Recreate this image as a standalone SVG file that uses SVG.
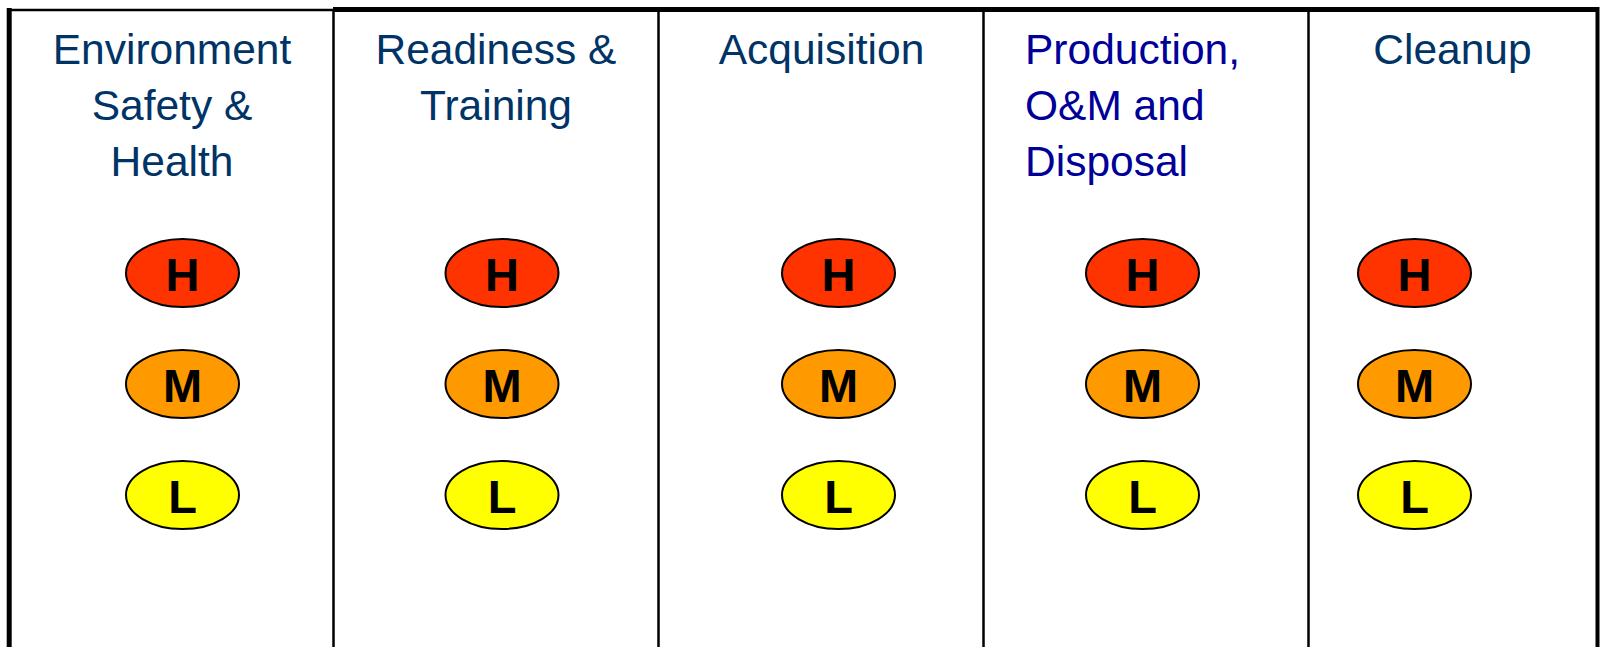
<svg xmlns="http://www.w3.org/2000/svg" width="1602" height="647" viewBox="0 0 1602 647">
<style>
.title{font-family:"Liberation Sans",Arial,sans-serif;font-size:42.5px;fill:#003366}
.t2{fill:#000099}
.lvl{font-family:"Liberation Sans",Arial,sans-serif;font-size:47px;font-weight:bold;fill:#000;text-anchor:middle}
.h{fill:#FF3300;stroke:#000;stroke-width:2}
.m{fill:#FF9900;stroke:#000;stroke-width:2}
.l{fill:#FFFF00;stroke:#000;stroke-width:2}
.frame{stroke:#000;fill:none}
</style>
<rect width="1602" height="647" fill="#fff"/>
<g id="frame">
<line class="frame" x1="9" y1="10" x2="334" y2="10" stroke-width="2.5"/>
<line class="frame" x1="333" y1="9.5" x2="1599" y2="9.5" stroke-width="5"/>
<line class="frame" x1="9.2" y1="8" x2="9.2" y2="647" stroke-width="5"/>
<line class="frame" x1="1597.5" y1="7" x2="1597.5" y2="647" stroke-width="4"/>
<line class="frame" x1="333.5" y1="9" x2="333.5" y2="647" stroke-width="2.5"/>
<line class="frame" x1="658.5" y1="9" x2="658.5" y2="647" stroke-width="2.5"/>
<line class="frame" x1="983.5" y1="9" x2="983.5" y2="647" stroke-width="2.5"/>
<line class="frame" x1="1308.5" y1="9" x2="1308.5" y2="647" stroke-width="2.5"/>
</g>
<g id="col1">
<text class="title" text-anchor="middle" x="172" y="64">Environment</text>
<text class="title" text-anchor="middle" x="172" y="120">Safety &amp;</text>
<text class="title" text-anchor="middle" x="172" y="176">Health</text>
<ellipse class="h" cx="182.5" cy="273" rx="56.5" ry="34"/><text class="lvl" x="182.5" y="291">H</text>
<ellipse class="m" cx="182.5" cy="384" rx="56.5" ry="34"/><text class="lvl" x="182.5" y="402">M</text>
<ellipse class="l" cx="182.5" cy="495" rx="56.5" ry="34"/><text class="lvl" x="182.5" y="513">L</text>
</g>
<g id="col2">
<text class="title" text-anchor="middle" x="496" y="64">Readiness &amp;</text>
<text class="title" text-anchor="middle" x="496" y="120">Training</text>
<ellipse class="h" cx="502" cy="273" rx="56.5" ry="34"/><text class="lvl" x="502" y="291">H</text>
<ellipse class="m" cx="502" cy="384" rx="56.5" ry="34"/><text class="lvl" x="502" y="402">M</text>
<ellipse class="l" cx="502" cy="495" rx="56.5" ry="34"/><text class="lvl" x="502" y="513">L</text>
</g>
<g id="col3">
<text class="title" text-anchor="middle" x="821.5" y="64">Acquisition</text>
<ellipse class="h" cx="838.5" cy="273" rx="56.5" ry="34"/><text class="lvl" x="838.5" y="291">H</text>
<ellipse class="m" cx="838.5" cy="384" rx="56.5" ry="34"/><text class="lvl" x="838.5" y="402">M</text>
<ellipse class="l" cx="838.5" cy="495" rx="56.5" ry="34"/><text class="lvl" x="838.5" y="513">L</text>
</g>
<g id="col4">
<text class="title t2" x="1025" y="64">Production,</text>
<text class="title t2" x="1025" y="120">O&amp;M and</text>
<text class="title t2" x="1025" y="176">Disposal</text>
<ellipse class="h" cx="1142.5" cy="273" rx="56.5" ry="34"/><text class="lvl" x="1142.5" y="291">H</text>
<ellipse class="m" cx="1142.5" cy="384" rx="56.5" ry="34"/><text class="lvl" x="1142.5" y="402">M</text>
<ellipse class="l" cx="1142.5" cy="495" rx="56.5" ry="34"/><text class="lvl" x="1142.5" y="513">L</text>
</g>
<g id="col5">
<text class="title" text-anchor="middle" x="1452.5" y="64">Cleanup</text>
<ellipse class="h" cx="1414.5" cy="273" rx="56.5" ry="34"/><text class="lvl" x="1414.5" y="291">H</text>
<ellipse class="m" cx="1414.5" cy="384" rx="56.5" ry="34"/><text class="lvl" x="1414.5" y="402">M</text>
<ellipse class="l" cx="1414.5" cy="495" rx="56.5" ry="34"/><text class="lvl" x="1414.5" y="513">L</text>
</g>
</svg>
